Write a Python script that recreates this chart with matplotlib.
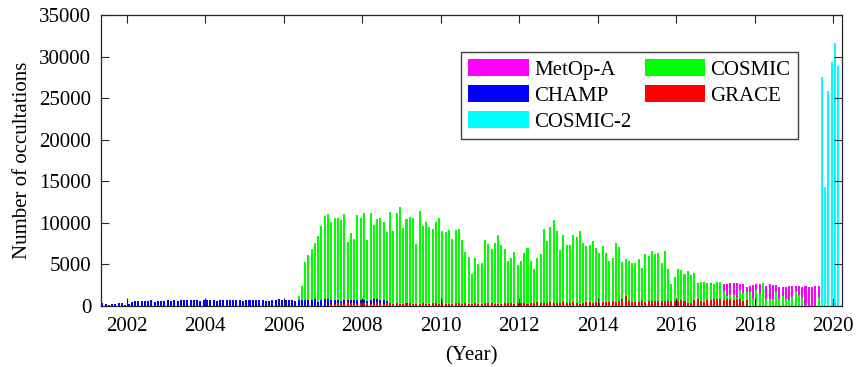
#!/usr/bin/env python3
# Monthly radio occultation counts per mission, bar chart.

import matplotlib
matplotlib.use("Agg")
import matplotlib.pyplot as plt
from matplotlib.patches import Patch
import numpy as np

# first month (year, month) and monthly counts of each mission
champStart = (2001, 5)
champ = [350, 200, 80, 200, 300, 320, 360, 100,
	250, 450, 550, 600, 600, 550, 650, 700, 500, 550, 600, 650,
	750, 650, 700, 650, 700, 750, 700, 700, 750, 700, 650, 700,
	700, 750, 700, 650, 700, 700, 750, 700, 700, 750, 700, 650,
	700, 700, 750, 700, 700, 700, 550, 650, 700, 750, 800, 750,
	750, 700, 700, 650, 750, 700, 700, 750, 750, 800, 500, 750,
	800, 800, 750, 700, 750, 650, 700, 750, 700, 750, 750, 700,
	750, 650, 750, 800, 800, 750, 700, 650]

cosmicStart = (2006, 5)
cosmic = [1220, 2360, 5280, 6100, 6870, 7600, 8400, 9630,
	10850, 11100, 10120, 10530, 10530, 10370, 11060, 7720, 8820, 8090, 10940, 10610,
	11180, 7890, 11180, 9720, 10450, 10530, 10080, 8900, 11340, 8980, 11220, 11950,
	9390, 10490, 10730, 10610, 7400, 11460, 9670, 10080, 9470, 9270, 10120, 10570,
	9020, 8860, 9100, 8010, 9150, 9230, 7890, 6500, 5850, 3900, 5730, 5080,
	5160, 7890, 7400, 6910, 7520, 8500, 7380, 6900, 5440, 5730, 6450, 4960,
	5360, 6370, 6940, 5360, 4400, 5770, 6210, 9310, 7860, 9520, 10320, 9070,
	6690, 8550, 7380, 7300, 8590, 8270, 8990, 7540, 7180, 7380, 7780, 6980,
	6370, 7260, 6370, 5440, 5810, 7540, 7060, 5280, 5690, 5360, 5120, 5120,
	5600, 4600, 6250, 5970, 6650, 6250, 6330, 5120, 6570, 4480, 2700, 3510,
	4440, 4270, 3870, 4230, 3670, 3910, 2620, 2940, 2900, 2740, 2660, 2700,
	2900, 2850, 1800, 1250, 1300, 1300, 1000, 1900, 1550, 1650, 1700, 900,
	1900, 1400, 2750, 900, 850, 900, 1650, 900, 1250, 900, 700, 1100,
	1800, 1300, 1000, 120, 0, 0, 0, 1000]

graceStart = (2007, 3)
grace = [250, 300, 350, 400, 300, 450, 350, 400, 300, 350,
	400, 350, 300, 400, 450, 350, 300, 400, 350, 300, 350, 250,
	300, 350, 400, 300, 250, 300, 350, 300, 250, 400, 350, 300,
	350, 300, 250, 300, 350, 400, 300, 350, 300, 250, 350, 300,
	300, 350, 400, 350, 300, 250, 300, 350, 400, 350, 300, 350,
	400, 350, 300, 350, 400, 450, 400, 350, 400, 450, 400, 350,
	400, 450, 350, 400, 450, 350, 300, 400, 450, 500, 400, 450,
	400, 450, 500, 450, 550, 500, 550, 800, 1150, 550, 500, 450,
	500, 550, 500, 550, 600, 550, 600, 550, 600, 650, 600, 550,
	650, 700, 600, 350, 400, 750, 800, 650, 450, 700, 750, 800,
	800, 850, 750, 900, 800, 750, 900, 850, 550, 750]

metopStart = (2016, 1)
metop = [2700, 2750, 2800, 2750, 2700, 2800, 2750, 2700, 2650, 2700, 2750, 2700,
	2650, 2550, 2650, 2700, 2800, 2800, 2750, 2650, 2600, 2300, 2450, 2550,
	2700, 2650, 2600, 2450, 2700, 2500, 2550, 2300, 2250, 2250, 2350, 2450,
	2350, 2400, 2300, 2350, 2300, 2300, 2450, 2400, 2350]

cosmic2Start = (2019, 9)
cosmic2 = [27600, 14300, 25800, 29400, 31600, 28900]

seriesNames = ["MetOp-A", "COSMIC", "CHAMP", "GRACE", "COSMIC-2"]
seriesColors = ["#ff00ff", "#00ff00", "#0000ff", "#ff0000", "#00ffff"]


def monthAxis(start, count):
	year, month = start
	idx = np.arange(count) + (month - 1)
	return year + (idx + 0.5) / 12.0


def main():
	plt.rcParams['font.family'] = ['Liberation Serif', 'DejaVu Serif']
	plt.rcParams['font.size'] = 15

	fig = plt.figure(figsize=(8.6, 3.67), dpi=100)
	ax = fig.add_axes([0.1174, 0.1662, 0.8616, 0.7930])

	allSeries = [(metopStart, metop), (cosmicStart, cosmic), (champStart, champ),
		(graceStart, grace), (cosmic2Start, cosmic2)]
	barWidth = 0.62 / 12.0
	for (start, vals), color in zip(allSeries, seriesColors):
		x = monthAxis(start, len(vals))
		ax.bar(x, vals, width=barWidth, color=color, linewidth=0)

	ax.set_xlim(2001.34, 2020.22)
	ax.set_ylim(0, 35000)
	ax.set_xticks(np.arange(2002, 2021, 2))
	ax.set_yticks(np.arange(0, 35001, 5000))
	ax.tick_params(direction='in', length=5.5, width=0.8, top=True, right=True,
		colors='0.15', labelcolor='black', labelsize=15)
	ax.tick_params(axis='x', pad=8)
	ax.tick_params(axis='y', pad=7)
	for sp in ax.spines.values():
		sp.set_color('0.15')
		sp.set_linewidth(0.9)

	ax.set_xlabel("(Year)", fontsize=15, labelpad=7)
	ax.set_ylabel("Number of occultations", fontsize=15, labelpad=5)

	# matplotlib fills columns first, so reorder to match the row-wise legend
	order = [0, 2, 4, 1, 3]
	handles = [Patch(facecolor=seriesColors[i], edgecolor='none') for i in order]
	labels = [seriesNames[i] for i in order]
	leg = ax.legend(handles, labels, ncol=2, loc='upper left',
		bbox_to_anchor=(0.486, 0.873), borderaxespad=0, fancybox=False,
		framealpha=1, edgecolor='0.25', handlelength=2.9, handleheight=0.87,
		handletextpad=0.25, columnspacing=0.65, labelspacing=0.25, borderpad=0.35,
		fontsize=15)
	leg.get_frame().set_linewidth(1.0)

	fig.savefig("out.png", dpi=100)
	return 0


if __name__ == '__main__':
	import sys
	sys.exit(main())
